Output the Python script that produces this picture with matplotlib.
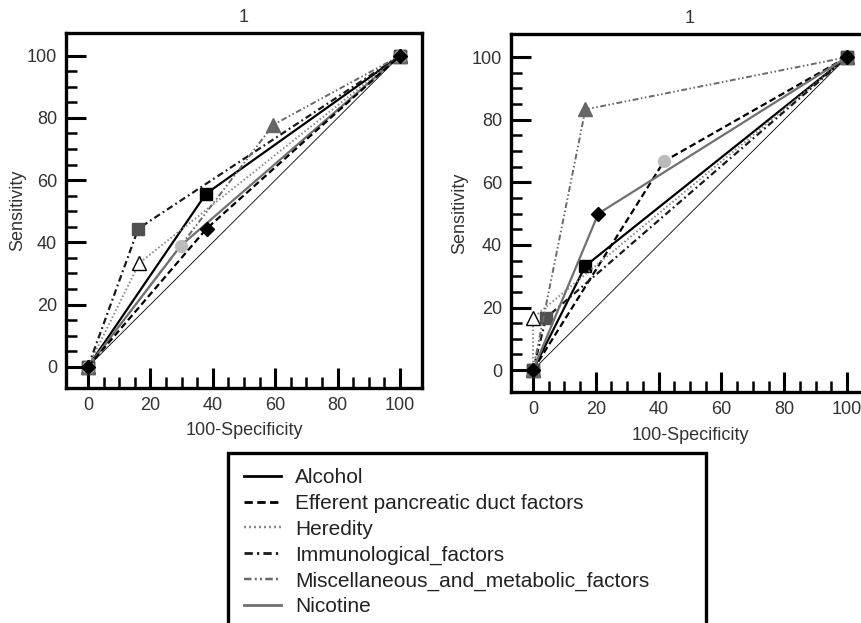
import matplotlib
matplotlib.use('Agg')
import matplotlib.pyplot as plt
from matplotlib.lines import Line2D
from matplotlib.ticker import MultipleLocator, FixedLocator

plt.rcParams['font.family'] = ['Liberation Sans', 'DejaVu Sans']

# ROC points per factor (100-specificity, sensitivity)
series = ["Alcohol", "Efferent pancreatic duct factors", "Heredity",
          "Immunological_factors", "Miscellaneous_and_metabolic_factors", "Nicotine"]

left_fpr = [[0, 37.8, 100], [0, 38.0, 100], [0, 16.4, 100],
            [0, 16.1, 100], [0, 59.4, 100], [0, 29.7, 100]]
left_sens = [[0, 55.6, 100], [0, 44.4, 100], [0, 33.3, 100],
             [0, 44.4, 100], [0, 77.8, 100], [0, 38.9, 100]]

right_fpr = [[0, 16.7, 100], [0, 41.7, 100], [0, 0.0, 100],
             [0, 4.2, 100], [0, 16.7, 100], [0, 20.8, 100]]
right_sens = [[0, 33.3, 100], [0, 66.7, 100], [0, 16.7, 100],
              [0, 16.7, 100], [0, 83.3, 100], [0, 50.0, 100]]

diag = [0, 100]
panel_titles = ["1", "1"]
minor_ticks = [v for v in range(5, 100, 5) if v % 20]

# line styles (same order as series)
line_col = ['black', 'black', '#8a8a8a', '#1a1a1a', '#6a6a6a', '#707070']
line_dash = [(None), (3, 1.6), (0.8, 1.2), (3, 1.5, 0.8, 1.5),
             (3, 1.3, 0.8, 1.3, 0.8, 1.3), (None)]
line_lw = [1.6, 1.6, 1.4, 1.6, 1.4, 1.6]

# marker look per panel: (marker, face, edge, size)
left_mk = [('s', 'black', 'black', 8.5), ('D', 'black', 'black', 6.8),
           ('^', 'white', 'black', 9.5), ('s', '#505050', '#505050', 8.5),
           ('^', '#666666', '#666666', 9.5), ('o', '#bbbbbb', '#bbbbbb', 8.5)]
right_mk = [('s', 'black', 'black', 8.5), ('o', '#bbbbbb', '#bbbbbb', 8.5),
            ('^', 'white', 'black', 9.5), ('s', '#505050', '#505050', 8.5),
            ('^', '#666666', '#666666', 9.5), ('D', 'black', 'black', 6.8)]

fig = plt.figure(figsize=(8.61, 6.23), dpi=100)
ax1 = fig.add_axes([0.0767, 0.3772, 0.4135, 0.5698])
ax2 = fig.add_axes([0.5935, 0.3708, 0.4158, 0.5746])

txtc = '#333333'
fs = 13


def draw_panel(ax, fpr, sens, mk, title, xlim, ylim, ylab_x, xlab_y):
    ax.plot(diag, diag, color='black', lw=0.6, zorder=1)
    for i in range(len(series)):
        m, fc, ec, ms = mk[i]
        z = 4 if m == 'D' else 2 + i * 0.1
        ln, = ax.plot(fpr[i], sens[i], color=line_col[i], lw=line_lw[i],
                      marker=m, markerfacecolor=fc, markeredgecolor=ec,
                      markersize=ms, markeredgewidth=1.0, zorder=z)
        if line_dash[i] is not None:
            ln.set_dashes(line_dash[i])
    ax.set_xlim(*xlim)
    ax.set_ylim(*ylim)
    ax.xaxis.set_major_locator(MultipleLocator(20))
    ax.yaxis.set_major_locator(MultipleLocator(20))
    ax.xaxis.set_minor_locator(FixedLocator(minor_ticks))
    ax.yaxis.set_minor_locator(FixedLocator(minor_ticks))
    ax.tick_params(which='major', direction='in', length=14.5, width=2.2,
                   labelsize=fs, labelcolor=txtc, pad=6.5)
    ax.tick_params(which='minor', direction='in', length=8, width=1.8)
    for s in ax.spines.values():
        s.set_linewidth(2.4)
    ax.set_title(title, fontsize=fs, color=txtc, pad=8)
    ax.set_xlabel("100-Specificity", fontsize=fs, color=txtc)
    ax.set_ylabel("Sensitivity", fontsize=fs, color=txtc)
    ax.yaxis.set_label_coords(ylab_x, 0.5)
    ax.xaxis.set_label_coords(0.5, xlab_y)


draw_panel(ax1, left_fpr, left_sens, left_mk, panel_titles[0],
           (-7.05, 107.05), (-6.85, 107.3), -0.112, -0.096)
draw_panel(ax2, right_fpr, right_sens, right_mk, panel_titles[1],
           (-7.0, 107.0), (-7.0, 107.4), -0.12, -0.098)

handles = []
for i in range(len(series)):
    h = Line2D([], [], color=line_col[i], lw=line_lw[i] + 0.4)
    if line_dash[i] is not None:
        h.set_dashes(line_dash[i])
    handles.append(h)

leg = fig.legend(handles, series, loc='upper left',
                 bbox_to_anchor=(228 / 861, 1 - 459 / 623, 478 / 861, 0.01),
                 mode='expand', borderaxespad=0, fontsize=15,
                 handlelength=1.8, handletextpad=0.67, labelspacing=0.32,
                 borderpad=0.75, fancybox=False, frameon=True, framealpha=1)
leg.get_frame().set_edgecolor('black')
leg.get_frame().set_linewidth(2.4)
for t in leg.get_texts():
    t.set_color('#222222')

fig.savefig('out.png', dpi=100)
